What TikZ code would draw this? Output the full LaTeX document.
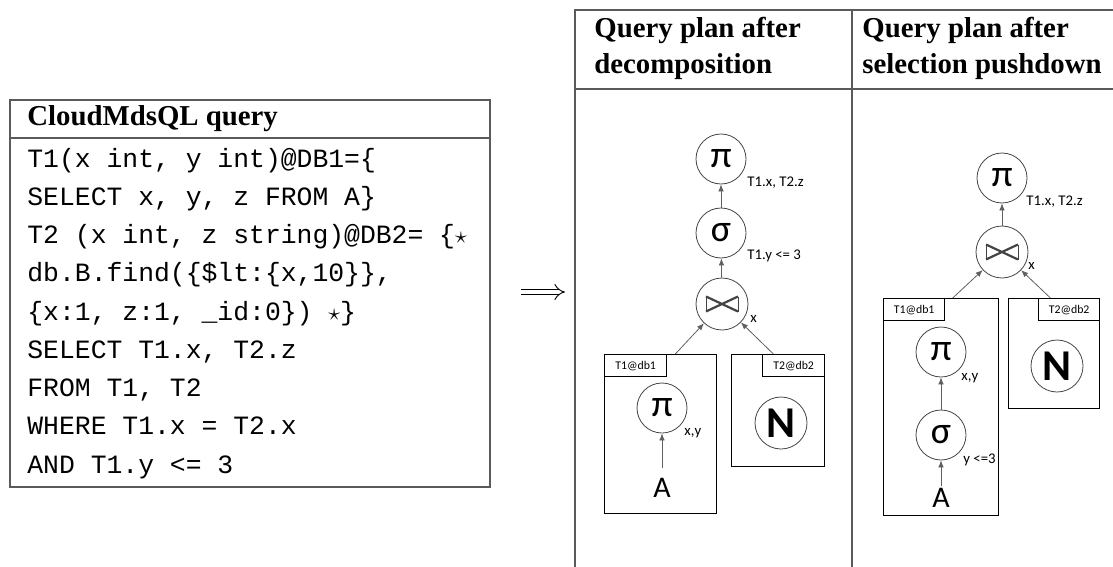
\documentclass[tikz,border=0pt]{standalone}
\usepackage{fontspec}
\setmainfont{Liberation Serif}
\newfontfamily\codefont{Liberation Mono}
\newfontfamily\plainsans{Carlito}
\usetikzlibrary{calc,arrows.meta,positioning}
\usepackage{xcolor}
\definecolor{rule}{HTML}{5A5A5A}
\definecolor{edge}{HTML}{444444}

\begin{document}
\begin{tikzpicture}[x=0.5pt, y=-0.5pt,
  titlenode/.style={
    anchor=base west,
    inner sep=0,
    font=\fontsize{14.4}{18}\selectfont\bfseries
  },
  codenode/.style={
    anchor=base west,
    inner sep=0,
    font=\codefont\fontsize{13.2}{16}\selectfont
  },
  opnode/.style={
    circle,
    draw=edge,
    line width=0.4pt,
    minimum size=25pt,
    inner sep=0,
    font=\plainsans\fontsize{19}{19}\selectfont
  },
  joinnode/.style={
    opnode,
    minimum size=26pt,
    path picture={
      \draw[line width=1.1pt] (path picture bounding box.center) ++(-8pt,-3.75pt) -- ++(16pt,7.5pt) ++(0,-7.5pt) -- ++(-16pt,7.5pt);
      \draw[line width=0.5pt] (path picture bounding box.center) ++(-8pt,-3.75pt) -- ++(0,7.5pt) ++(16pt,0) -- ++(0,-7.5pt);
    }
  },
  boxnode/.style={
    rectangle,
    draw,
    line width=0.6pt,
    anchor=north west,
    inner sep=0
  },
  tabnode/.style={
    rectangle,
    draw,
    line width=0.6pt,
    minimum width=31pt,
    minimum height=11pt,
    inner sep=0,
    font=\plainsans\fontsize{5.9}{6}\selectfont
  },
  labelnode/.style={
    anchor=west,
    inner sep=0,
    font=\plainsans\fontsize{7.4}{8}\selectfont
  },
  leafnode/.style={
    inner sep=1pt,
    font=\plainsans\fontsize{15}{15}\selectfont
  },
  arrowline/.style={
    draw=edge!85,
    line width=0.4pt,
    -{Latex[length=3.5pt,width=2.8pt]}
  }
  ]

  \useasboundingbox (0,0) rectangle (1113,567);

  % query table
  \begin{scope}
    \node[draw=rule, line width=0.9pt, anchor=north west, minimum width=240pt, minimum height=193.5pt, inner sep=0] (query-box) at (9,99) {};
    \draw[rule, line width=0.9pt] (9,138) -- (489,138);

    \node[titlenode] (query-title) at (27,126) {CloudMdsQL query};

    \node[codenode] (query-t1) at (27,167) {T1(x int, y int)@DB1=\{};
    \node[codenode] (query-t1-sel) at (27,167+38.25) {SELECT x, y, z FROM A\}};
    \node[codenode] (query-t2) at (27,167+38.25*2) {T2 (x int, z string)@DB2= \{$\star$};
    \node[codenode] (query-t2-find) at (27,167+38.25*3) {db.B.find(\{\$lt:\{x,10\}\},};
    \node[codenode] (query-t2-proj) at (27,167+38.25*4) {\{x:1, z:1, \_id:0\}) $\star$\}};
    \node[codenode] (query-select) at (27,167+38.25*5) {SELECT T1.x, T2.z};
    \node[codenode] (query-from) at (27,167+38.25*6) {FROM T1, T2};
    \node[codenode] (query-where) at (27,167+38.25*7) {WHERE T1.x = T2.x};
    \node[codenode] (query-and) at (27,167+38.25*8) {AND T1.y <= 3};
  \end{scope}

  % plan table
  \begin{scope}
    \draw[rule, line width=0.9pt] (1113,10) -- (575,10) -- (575,567);
    \draw[rule, line width=0.9pt] (575,89) -- (1113,89);
    \draw[rule, line width=0.9pt] (852,10) -- (852,567);
    \coordinate (plan-left) at (575,292);

    \node[titlenode] (dec-title) at (594,38) {Query plan after};
    \node[titlenode] (dec-title2) at (594,74) {decomposition};
    \node[titlenode] (push-title) at (862,38) {Query plan after};
    \node[titlenode] (push-title2) at (862,74) {selection pushdown};
  \end{scope}

  \draw[double, double distance=2.4pt, line width=0.45pt, -{Implies[length=4pt]}, shorten <=15pt, shorten >=5pt] (query-box.east |- plan-left) -- (plan-left);

  % plan after decomposition
  \begin{scope}
    \node[opnode] (dec-pi) at (721,159) {π};
    \node[opnode] (dec-sigma) at (721,233) {σ};
    \node[joinnode] (dec-join) at (722,304) {};

    \node[labelnode] (dec-pi-lbl) at ($(dec-pi)+(26,24)$) {T1.x, T2.z};
    \node[labelnode] (dec-sigma-lbl) at ($(dec-sigma)+(26,23)$) {T1.y <= 3};
    \node[labelnode] (dec-join-lbl) at ($(dec-join)+(28,15)$) {x};

    \node[boxnode, minimum width=56pt, minimum height=79.5pt] (dec-db1) at (604,354) {};
    \node[tabnode, anchor=north west] (dec-db1-tab) at (dec-db1.north west) {T1@db1};
    \node[opnode] (dec-db1-pi) at (662,408) {π};
    \node[labelnode] (dec-db1-pi-lbl) at ($(dec-db1-pi)+(22,25)$) {x,y};
    \node[leafnode] (dec-a) at (662,488) {A};

    \node[boxnode, minimum width=46.5pt, minimum height=56pt] (dec-db2) at (731,354) {};
    \node[tabnode, anchor=north east] (dec-db2-tab) at (dec-db2.north east) {T2@db2};
    \node[opnode, minimum size=26pt, font=\plainsans\bfseries\fontsize{22}{22}\selectfont] (dec-n) at (781,423) {N};

    \draw[arrowline] (dec-sigma) -- (dec-pi);
    \draw[arrowline] (dec-join) -- (dec-sigma);
    \draw[arrowline, shorten <=4pt] (dec-a) -- (dec-db1-pi);
    \draw[arrowline] ($(dec-db1.north west)!0.63!(dec-db1.north east)$) -- (dec-join);
    \draw[arrowline] ($(dec-db2.north west)!0.45!(dec-db2.north east)$) -- (dec-join);
  \end{scope}

  % plan after selection pushdown
  \begin{scope}
    \node[opnode] (push-pi) at (1002,178) {π};
    \node[joinnode] (push-join) at (1002,252) {};

    \node[labelnode] (push-pi-lbl) at ($(push-pi)+(24,24)$) {T1.x, T2.z};
    \node[labelnode] (push-join-lbl) at ($(push-join)+(26,14)$) {x};

    \node[boxnode, minimum width=57.5pt, minimum height=108.5pt] (push-db1) at (883,298) {};
    \node[tabnode, minimum width=30.5pt, anchor=north west] (push-db1-tab) at (push-db1.north west) {T1@db1};
    \node[opnode] (push-db1-pi) at (941,352) {π};
    \node[labelnode] (push-db1-pi-lbl) at ($(push-db1-pi)+(20,26)$) {x,y};
    \node[opnode] (push-db1-sigma) at (941,435) {σ};
    \node[labelnode] (push-db1-sigma-lbl) at ($(push-db1-sigma)+(22,25)$) {y <=3};
    \node[leafnode] (push-a) at (941,498) {A};

    \node[boxnode, minimum width=45.5pt, minimum height=55pt] (push-db2) at (1008,298) {};
    \node[tabnode, minimum width=30.5pt, anchor=north east] (push-db2-tab) at (push-db2.north east) {T2@db2};
    \node[opnode, minimum size=26pt, font=\plainsans\bfseries\fontsize{22}{22}\selectfont] (push-n) at (1057,366) {N};

    \draw[arrowline] (push-join) -- (push-pi);
    \draw[arrowline] (push-db1-sigma) -- (push-db1-pi);
    \draw[arrowline] (push-a) -- (push-db1-sigma);
    \draw[arrowline] ($(push-db1.north west)!0.6!(push-db1.north east)$) -- (push-join);
    \draw[arrowline] ($(push-db2.north west)!0.46!(push-db2.north east)$) -- (push-join);
  \end{scope}

\end{tikzpicture}
\end{document}
